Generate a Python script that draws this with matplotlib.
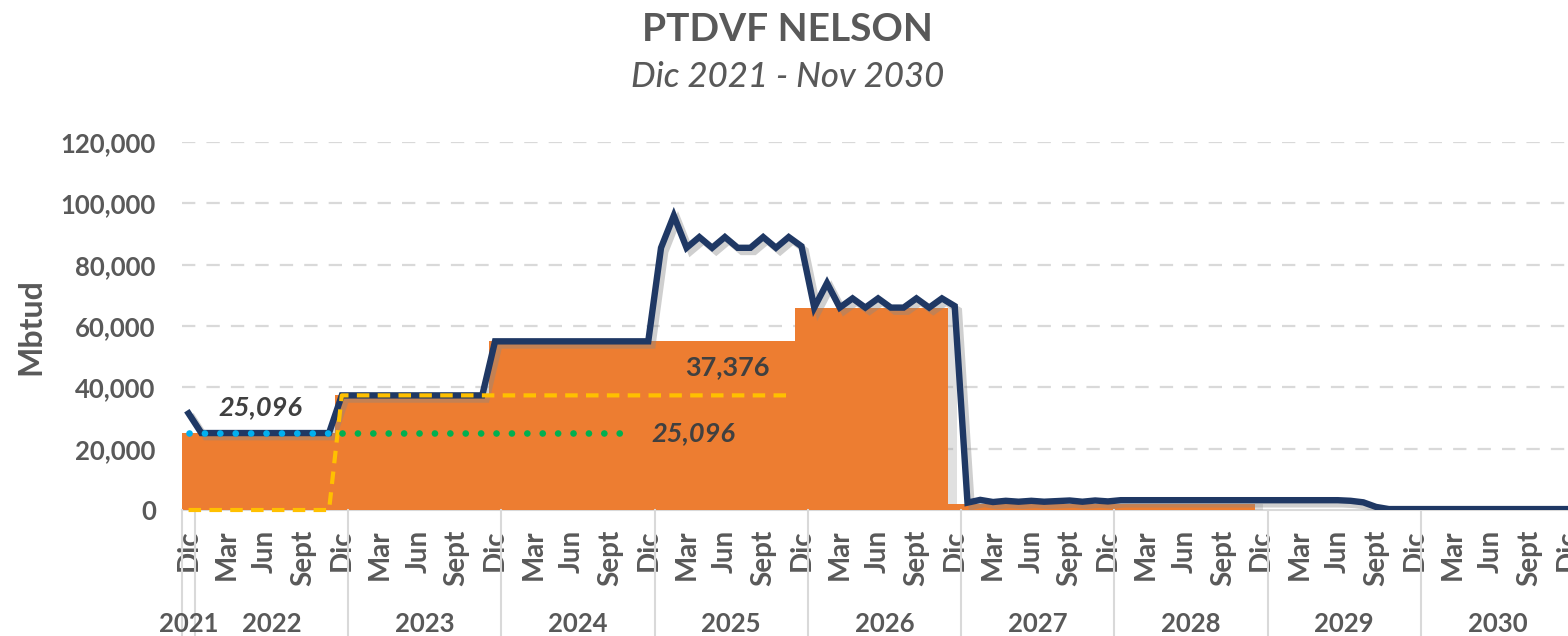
import numpy as np
import matplotlib
matplotlib.use("Agg")
import matplotlib.pyplot as plt
import matplotlib.patheffects as pe
from matplotlib.ticker import FuncFormatter

plt.rcParams['font.family'] = ['Lato', 'DejaVu Sans']

# ---- data: monthly, Dic 2021 .. Dic 2030 ----
month_names = ["Dic", "Mar", "Jun", "Sept"]
years = ["2021", "2022", "2023", "2024", "2025", "2026", "2027", "2028", "2029", "2030"]

# navy line (Mbtud)
nelson = ([31500] + [25096] * 11 + [37376] * 12 + [55000] * 13 +
          [85500, 96000, 85500, 89000, 85500, 89000, 85500, 85500, 89000, 85500, 89000, 86000] +
          [66000, 74000, 66000, 69000, 66000, 69000, 66000, 66000, 69000, 66000, 69000, 66500] +
          [2400, 3300, 2600, 3000, 2700, 3000, 2700, 2900, 3100, 2700, 3100, 2800] +
          [3200] * 18 + [3000, 2500, 1000] + [300] * 15)

# orange block
contrato = [25096] * 12 + [37376] * 12 + [55000] * 24 + [66000] * 12 + [2000] * 24

# reference lines
cyan_ref = [25096] * 12          # Dic 2021 - Nov 2022
green_ref = [25096] * 23         # Dic 2022 - Sept 2024
yellow_ref = [0] * 12 + [37376] * 36   # Dic 2021 - Nov 2025

n = len(nelson)
x = np.arange(n)

TXT = "#595959"
fig = plt.figure(figsize=(15.68, 6.36), dpi=100)
W, H = 1568, 636
x0_px, x1_px = 182.2, 1574
y0_px, y1_px = 510, 142
ax = fig.add_axes([x0_px / W, 1 - y0_px / H, (x1_px - x0_px) / W, (y0_px - y1_px) / H])
ax.set_xlim(-0.5, n - 0.5)
ax.set_ylim(0, 120000)

for v in range(20000, 120001, 20000):
    ax.axhline(v, color="#D9D9D9", lw=1.6, dashes=(6, 5), zorder=0)

edges = np.arange(len(contrato) + 1) - 0.5
ax.stairs(contrato, edges, fill=True, color="#ED7D31", lw=0, zorder=1,
          path_effects=[pe.SimplePatchShadow(offset=(6, 0), shadow_rgbFace="#999999", alpha=0.3),
                        pe.Normal()])

ax.plot(x, nelson, color="#1F3864", lw=4.6, solid_joinstyle="miter", zorder=3,
        path_effects=[pe.SimpleLineShadow(offset=(3, -3), shadow_color="#888888", alpha=0.4),
                      pe.Normal()])

ax.plot(np.arange(len(yellow_ref)), yellow_ref, color="#FFC000", lw=3.0,
        linestyle=(0, (3.0, 2.0)), zorder=4, clip_on=False)
ax.plot(np.arange(len(cyan_ref)), cyan_ref, color="#00B0F0", lw=4.8,
        linestyle=(0, (0.01, 2.3)), dash_capstyle="round", zorder=5)
ax.plot(np.arange(12, 12 + len(green_ref)), green_ref, color="#00B050", lw=4.8,
        linestyle=(0, (0.01, 2.3)), dash_capstyle="round", zorder=5)

lab = "#404040"
ax.text(5.63, 33600, "25,096", color=lab, fontsize=19.5, fontweight="bold",
        fontstyle="italic", ha="center", va="center", zorder=6)
ax.text(42.2, 46500, "37,376", color=lab, fontsize=19.5, fontweight="bold",
        ha="center", va="center", zorder=6)
ax.text(39.5, 25096, "25,096", color=lab, fontsize=19.5, fontweight="bold",
        fontstyle="italic", ha="center", va="center", zorder=6)

# axes styling
for s in ["top", "right", "left"]:
    ax.spines[s].set_visible(False)
ax.spines["bottom"].set_color("#D9D9D9")
ax.spines["bottom"].set_linewidth(1.5)
ax.spines["bottom"].set_zorder(0.5)
ax.set_yticks(range(0, 120001, 20000))
ax.yaxis.set_major_formatter(FuncFormatter(lambda v, p: f"{int(v):,}"))
ax.tick_params(axis="y", length=0, pad=19, labelsize=18.5, labelcolor=TXT)
for t in ax.get_yticklabels():
    t.set_fontweight("bold")

tick_pos = np.arange(0, n, 3)
ax.set_xticks(tick_pos)
ax.set_xticklabels([month_names[(i // 3) % 4] for i in tick_pos], rotation=90,
                   fontsize=20, fontweight="bold", color=TXT, va="top", ha="center")
ax.tick_params(axis="x", length=0, pad=14)

# year separators and labels
trans = ax.get_xaxis_transform()
seps = [-0.5, 0.5] + [0.5 + 12 * k for k in range(1, 10)]
for s in seps:
    ax.plot([s, s], [0, -0.36], transform=trans, color="#D9D9D9", lw=1.5, clip_on=False)
year_centers = [0] + [6.5 + 12 * k for k in range(len(years) - 1)]
for yc, yl in zip(year_centers, years):
    ax.text(yc, -0.31, yl, transform=trans, ha="center", va="center",
            fontsize=18.5, fontweight="bold", color=TXT)

fig.text(0.0198, 0.487, "Mbtud", rotation=90, ha="center", va="center",
         fontsize=23, fontweight="bold", color=TXT)
fig.text(0.502, 0.954, "PTDVF NELSON", ha="center", va="center",
         fontsize=28, fontweight="bold", color=TXT)
fig.text(0.502, 0.879, "Dic 2021 - Nov 2030", ha="center", va="center",
         fontsize=25, fontstyle="italic", fontweight="medium", color=TXT)

fig.savefig("out.png", dpi=100)
